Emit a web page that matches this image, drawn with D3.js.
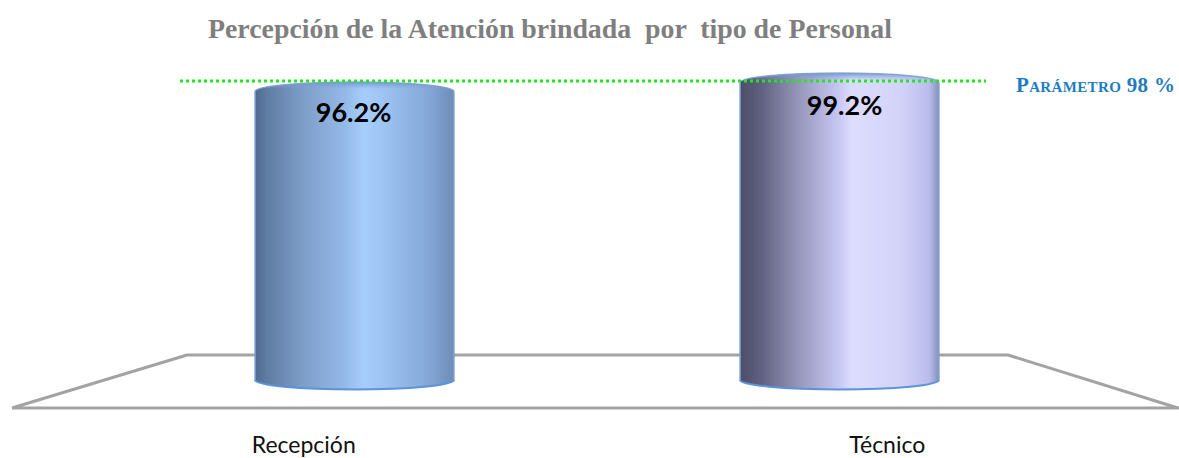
<!DOCTYPE html>
<html>
<head>
<meta charset="utf-8">
<script src="https://cdn.jsdelivr.net/npm/d3@7/dist/d3.min.js"></script>
<style>
html,body{margin:0;padding:0;background:#fff;overflow:hidden}
svg{display:block}
</style>
</head>
<body>
<svg id="chart" width="1179" height="458"></svg>
<script>
const categories = ["Recepción", "Técnico"];
const values = [96.2, 99.2];
const chartTitle = "Percepción de la Atención brindada  por  tipo de Personal";
const parameterLabel = "Parámetro 98 %";
const parameterDrawnLevel = 99.7; // where the dotted line actually sits in the picture

const gradients = [
  [[0,"#4f6a90"],[0.06,"#5f7ca3"],[0.25,"#7f9fca"],[0.45,"#94b9e8"],[0.55,"#a6cefd"],[0.68,"#9ac0f0"],[0.88,"#83a6d6"],[1,"#6d8cb8"]],
  [[0,"#4d4e69"],[0.1,"#5e5f7e"],[0.3,"#9898bc"],[0.5,"#c8c8f6"],[0.56,"#dcdcfe"],[0.8,"#d4d4fa"],[0.95,"#bcbcec"],[1,"#8492bb"]]
];

const svg = d3.select("#chart");
const defs = svg.append("defs");
defs.append("filter").attr("id","soft").attr("x","-5%").attr("y","-5%").attr("width","110%").attr("height","110%")
  .append("feGaussianBlur").attr("stdDeviation",0.7);
const capGrad = defs.append("linearGradient").attr("id","cap").attr("x1",0).attr("x2",0).attr("y1",0).attr("y2",1);
capGrad.append("stop").attr("offset",0).attr("stop-color","#6f95cf").attr("stop-opacity",0.95);
capGrad.append("stop").attr("offset",0.75).attr("stop-color","#7fa3d8").attr("stop-opacity",0);
gradients.forEach((stops,i)=>{
  const g = defs.append("linearGradient").attr("id","g"+i).attr("x1",0).attr("x2",1).attr("y1",0).attr("y2",0);
  stops.forEach(s=>g.append("stop").attr("offset",s[0]).attr("stop-color",s[1]));
});

const y = d3.scaleLinear().domain([0,100]).range([380,80]);
const x = d3.scaleBand().domain(categories).range([112,1082]).paddingInner(0.59).paddingOuter(0.295);
const xLabels = d3.scaleBand().domain(categories).range([12,1179]);
const ry = 9.5;

// title
svg.append("text").attr("x",208).attr("y",38)
  .attr("font-family","'Liberation Serif',serif").attr("font-weight","bold").attr("font-size",27)
  .attr("fill","#7f7f7f").attr("xml:space","preserve").style("white-space","pre")
  .attr("textLength",684).attr("lengthAdjust","spacingAndGlyphs").text(chartTitle);

// floor
svg.append("path")
  .attr("d",d3.line()([[12,408],[187,355],[1008,355],[1178,408],[12,408]]))
  .attr("fill","none").attr("stroke","#a3a3a3").attr("stroke-width",3).attr("stroke-linejoin","round");

// cylinders
const cyl = svg.selectAll("g.cyl").data(categories.map((c,i)=>({c,v:values[i],i}))).join("g").attr("class","cyl").attr("filter","url(#soft)");
const bw = x.bandwidth();
cyl.append("path")
  .attr("d",d=>{const l=x(d.c),r=l+bw,t=y(d.v),b=y(0),rx=bw/2;
    return `M${l},${t}A${rx},${ry} 0 0 1 ${r},${t}L${r},${b}A${rx},${ry} 0 0 1 ${l},${b}Z`;})
  .attr("fill",d=>`url(#g${d.i})`);
cyl.append("path")
  .attr("d",d=>{const l=x(d.c),r=l+bw,t=y(d.v),rx=bw/2;
    return `M${l},${t}A${rx},${ry} 0 0 1 ${r},${t}A${rx},${ry*0.15} 0 0 0 ${l},${t}Z`;})
  .attr("fill","url(#cap)");
cyl.append("path")
  .attr("d",d=>{const l=x(d.c),r=l+bw,t=y(d.v),b=y(0);
    return `M${l},${t}L${l},${b}M${r},${t}L${r},${b}`;})
  .attr("fill","none").attr("stroke","#7d9fd0").attr("stroke-width",1.5);
cyl.append("path")
  .attr("d",d=>{const l=x(d.c),r=l+bw,b=y(0),rx=bw/2;
    return `M${l},${b}A${rx},${ry} 0 0 0 ${r},${b}`;})
  .attr("fill","none").attr("stroke","#5b93d9").attr("stroke-width",2);
cyl.append("path")
  .attr("d",d=>{const l=x(d.c),r=l+bw,t=y(d.v),rx=bw/2;
    return `M${l},${t}A${rx},${ry} 0 0 1 ${r},${t}`;})
  .attr("fill","none").attr("stroke","#7f9fd2").attr("stroke-width",1.5).attr("stroke-opacity",0.85);

// parameter line
svg.append("line").attr("x1",180).attr("x2",986).attr("y1",y(parameterDrawnLevel)).attr("y2",y(parameterDrawnLevel))
  .attr("stroke","#1fe81f").attr("stroke-width",3).attr("stroke-dasharray","3 3");

svg.append("text").attr("x",1016).attr("y",92)
  .attr("font-family","'Liberation Serif',serif").attr("font-weight","bold").attr("font-size",21)
  .style("font-variant","small-caps").attr("fill","#1f7cc0")
  .attr("textLength",159).attr("lengthAdjust","spacing").text(parameterLabel);

// value labels
svg.selectAll("text.val").data(categories.map((c,i)=>({c,v:values[i],i}))).join("text").attr("class","val")
  .attr("x",d=>x(d.c)+bw/2+(d.i?5:-1))
  .attr("y",d=>y(d.v)+(d.i?33:31))
  .attr("text-anchor","middle")
  .attr("font-family","Lato,sans-serif").attr("font-weight","bold").attr("font-size",27)
  .attr("fill","#000").text(d=>d.v.toFixed(1)+"%");

// category axis
const axis = svg.append("g").attr("transform","translate(0,408)")
  .call(d3.axisBottom(xLabels).tickSize(0).tickPadding(29));
axis.select(".domain").remove();
axis.selectAll("text").attr("font-family","Lato,sans-serif").attr("font-size",23).attr("fill","#111");
</script>
</body>
</html>
